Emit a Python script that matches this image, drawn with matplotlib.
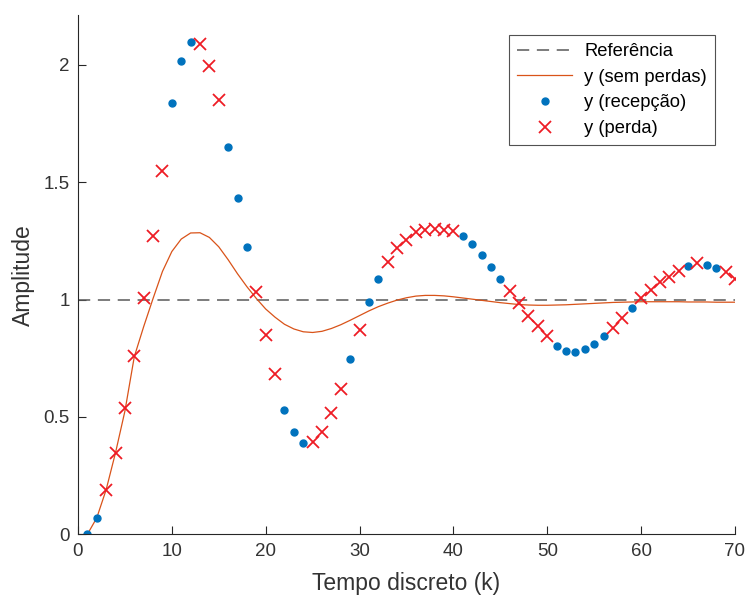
import numpy as np
import matplotlib.pyplot as plt

plt.rcParams['font.family'] = ['Liberation Sans', 'DejaVu Sans']

# discrete time axis
k = list(range(1, 71))

# response without packet losses
y_ideal = [0.0, 0.07, 0.19, 0.348, 0.525, 0.757, 0.885, 1.005, 1.12, 1.205,
           1.258, 1.284, 1.285, 1.265, 1.225, 1.17, 1.11, 1.055, 1.005, 0.96,
           0.925, 0.895, 0.875, 0.863, 0.86, 0.865, 0.877, 0.893, 0.912, 0.932,
           0.952, 0.97, 0.985, 0.998, 1.008, 1.015, 1.018, 1.018, 1.016, 1.012,
           1.007, 1.002, 0.997, 0.992, 0.987, 0.983, 0.979, 0.977, 0.976, 0.976,
           0.977, 0.978, 0.98, 0.982, 0.984, 0.986, 0.988, 0.989, 0.99, 0.991,
           0.991, 0.991, 0.991, 0.991, 0.99, 0.99, 0.99, 0.989, 0.989, 0.989]

# response with losses (received samples)
k_rx = [1, 2, 10, 11, 12, 16, 17, 18, 22, 23, 24, 29, 31, 32,
        41, 42, 43, 44, 45, 51, 52, 53, 54, 55, 56, 59, 65, 67, 68]
y_rx = [0.0, 0.071, 1.838, 2.017, 2.097, 1.649, 1.433, 1.223, 0.530, 0.434,
        0.391, 0.746, 0.988, 1.087, 1.269, 1.237, 1.190, 1.140, 1.087, 0.803,
        0.782, 0.778, 0.789, 0.810, 0.843, 0.965, 1.144, 1.148, 1.134]

# response with losses (lost samples)
k_lost = [3, 4, 5, 6, 7, 8, 9, 13, 14, 15, 19, 20, 21, 25, 26, 27, 28, 30,
          33, 34, 35, 36, 37, 38, 39, 40, 46, 47, 48, 49, 50, 57, 58,
          60, 61, 62, 63, 64, 66, 69, 70]
y_lost = [0.189, 0.348, 0.540, 0.760, 1.005, 1.269, 1.547, 2.090, 1.997, 1.851,
          1.031, 0.850, 0.682, 0.394, 0.438, 0.516, 0.618, 0.871,
          1.159, 1.218, 1.255, 1.287, 1.298, 1.301, 1.298, 1.291,
          1.038, 0.985, 0.930, 0.886, 0.843, 0.877, 0.921,
          1.005, 1.041, 1.073, 1.097, 1.123, 1.156, 1.116, 1.087]

fig = plt.figure(figsize=(7.47, 5.98), dpi=100)
ax = fig.add_axes([0.1044, 0.1065, 0.8795, 0.8685])

ax.plot([0, 70], [1, 1], '--', color='#595959', lw=1.1, dashes=(8, 5),
        label='Referência')
ax.plot(k, y_ideal, '-', color='#D95319', lw=0.9, label='y (sem perdas)')
ax.plot(k_rx, y_rx, '.', color='#0072BD', ms=10, label='y (recepção)')
ax.plot(k_lost, y_lost, 'x', color='#EE1C25', ms=9, mew=1.3,
        label='y (perda)')

ax.set_xlim(0, 70)
ax.set_ylim(0, 2.213)
ax.set_xticks(range(0, 71, 10))
ax.set_yticks([0, 0.5, 1, 1.5, 2])
ax.set_yticklabels(['0', '0.5', '1', '1.5', '2'])

for side in ['top', 'right']:
    ax.spines[side].set_visible(False)
for side in ['left', 'bottom']:
    ax.spines[side].set_color('#262626')
    ax.spines[side].set_linewidth(0.8)
ax.tick_params(direction='in', length=6, width=0.8, color='#262626',
               labelcolor='#333333', labelsize=13.5, pad=6)

ax.set_xlabel('Tempo discreto (k)', fontsize=16.5, color='#333333', labelpad=9)
ax.set_ylabel('Amplitude', fontsize=16.5, color='#333333', labelpad=6)

leg = ax.legend(loc='upper right', bbox_to_anchor=(0.9696, 0.9615),
                borderaxespad=0, fontsize=13.2, frameon=True, fancybox=False,
                edgecolor='#262626', handlelength=3.0, handletextpad=0.65,
                borderpad=0.45, labelspacing=0.47)
leg.get_frame().set_linewidth(0.8)

fig.savefig('out.png', dpi=100)
